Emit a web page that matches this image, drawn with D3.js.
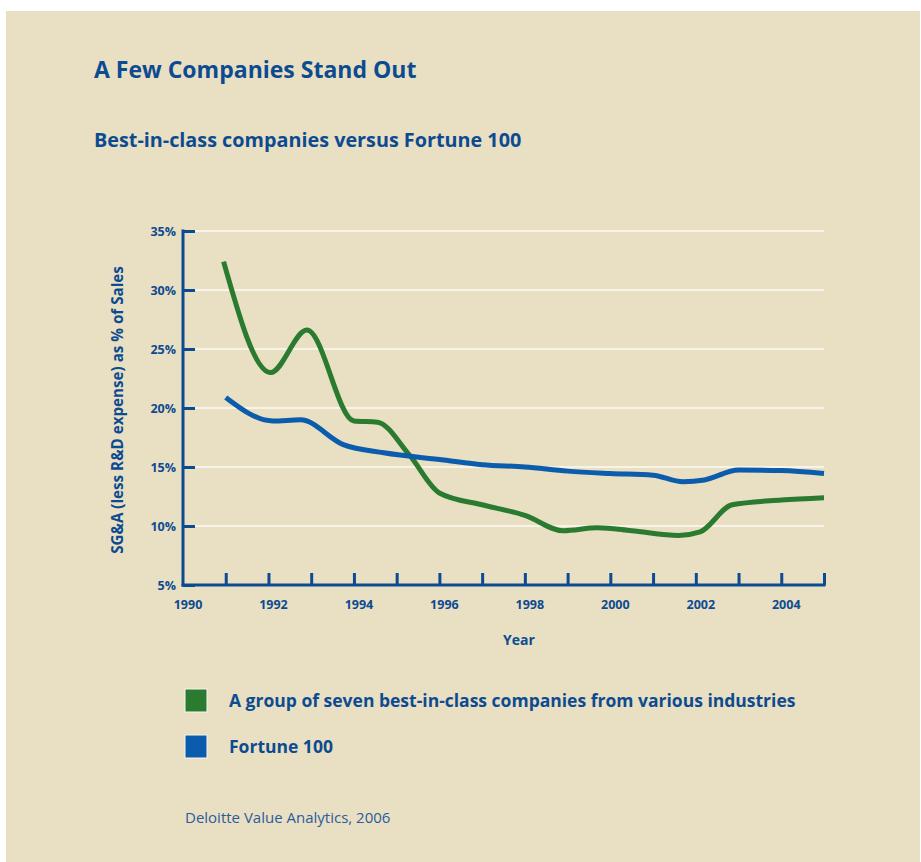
<!DOCTYPE html>
<html>
<head>
<meta charset="utf-8">
<script src="https://cdn.jsdelivr.net/npm/d3@7"></script>
<style>
  body { margin: 0; background: #ffffff; }
  svg text { font-family: 'Open Sans', 'Noto Sans', sans-serif; fill: #0d4b91; }
</style>
</head>
<body>
<div id="chart"></div>
<script>
'use strict';

// values
var greenYears  = [ 1990.95, 1992.05, 1992.9, 1994.0, 1994.55, 1995.3, 1996.0, 1997.0, 1998.0, 1998.9, 1999.7, 2000.5, 2001.6, 2002.1, 2002.85, 2004.0, 2005.0 ];
var greenValues = [ 32.4, 23.0, 26.6, 18.9, 18.8, 16.0, 12.8, 11.8, 10.9, 9.6, 9.85, 9.6, 9.2, 9.5, 11.8, 12.2, 12.4 ];

var blueYears  = [ 1991.0, 1992.1, 1992.75, 1993.75, 1994.7, 1996.1, 1997.0, 1998.0, 1999.0, 2000.0, 2001.0, 2001.7, 2002.2, 2003.0, 2004.0, 2005.0 ];
var blueValues = [ 20.9, 18.9, 19.0, 16.9, 16.2, 15.6, 15.2, 15.0, 14.65, 14.45, 14.3, 13.75, 13.9, 14.75, 14.7, 14.45 ];

var yTicks = [ 5, 10, 15, 20, 25, 30, 35 ];
var xTickYears = d3.range( 1991, 2006 );
var xLabelYears = [ 1990, 1992, 1994, 1996, 1998, 2000, 2002, 2004 ];

var seriesNames = [ 'A group of seven best-in-class companies from various industries', 'Fortune 100' ];
var seriesColors = [ '#2a7a30', '#0b5cad' ];

var width = 921,
    height = 862,
    axisColor = '#0d4b91';

var svg = d3.select( '#chart' )
  .append( 'svg' )
    .attr( 'width', width )
    .attr( 'height', height );

// beige panel
svg.append( 'rect' )
  .attr( 'x', 6 )
  .attr( 'y', 11 )
  .attr( 'width', 914 )
  .attr( 'height', 851 )
  .attr( 'fill', '#e9dfc3' );

svg.append( 'text' )
  .attr( 'x', 94 )
  .attr( 'y', 78 )
  .style( 'font-size', '23px' )
  .style( 'font-weight', 'bold' )
  .text( 'A Few Companies Stand Out' );

svg.append( 'text' )
  .attr( 'x', 94 )
  .attr( 'y', 147 )
  .style( 'font-size', '19.8px' )
  .style( 'font-weight', 'bold' )
  .text( 'Best-in-class companies versus Fortune 100' );

var x = d3.scaleLinear()
    .domain( [ 1990, 2005 ] )
    .range( [ 183, 824 ] );

var y = d3.scaleLinear()
    .domain( [ 5, 35 ] )
    .range( [ 585, 231 ] );

// gridlines
svg.append( 'g' )
  .selectAll( 'line' )
  .data( yTicks.filter( function( d ) { return d > 5; } ) )
  .enter()
  .append( 'line' )
    .attr( 'x1', x( 1990 ) )
    .attr( 'x2', x( 2005 ) )
    .attr( 'y1', function( d ) { return y( d ); } )
    .attr( 'y2', function( d ) { return y( d ); } )
    .attr( 'stroke', '#f8f3e8' )
    .attr( 'stroke-width', 2 );

// y axis
var yAxis = svg.append( 'g' )
  .attr( 'transform', 'translate(' + x( 1990 ) + ',0)' )
  .call( d3.axisRight( y )
    .tickValues( yTicks )
    .tickSize( 12 )
    .tickFormat( function( d ) { return ''; } ) );

yAxis.select( '.domain' ).remove();
yAxis.selectAll( 'line' )
  .attr( 'stroke', axisColor )
  .attr( 'stroke-width', 3 );

yAxis.selectAll( '.tick' )
  .append( 'text' )
    .attr( 'x', -7 )
    .attr( 'dy', '0.35em' )
    .attr( 'text-anchor', 'end' )
    .style( 'font-size', '12.5px' )
    .style( 'font-weight', 'bold' )
    .text( function( d ) { return d + '%'; } );

svg.append( 'line' )
  .attr( 'x1', x( 1990 ) )
  .attr( 'x2', x( 1990 ) )
  .attr( 'y1', y( 35 ) - 1.5 )
  .attr( 'y2', y( 5 ) + 1.5 )
  .attr( 'stroke', axisColor )
  .attr( 'stroke-width', 3 );

// x axis
var xAxis = svg.append( 'g' )
  .attr( 'transform', 'translate(0,' + y( 5 ) + ')' )
  .call( d3.axisTop( x )
    .tickValues( xTickYears )
    .tickSize( 12 )
    .tickFormat( function( d ) { return ''; } ) );

xAxis.select( '.domain' ).remove();
xAxis.selectAll( 'line' )
  .attr( 'stroke', axisColor )
  .attr( 'stroke-width', 3 );

svg.append( 'line' )
  .attr( 'x1', x( 1990 ) - 1.5 )
  .attr( 'x2', x( 2005 ) + 1.5 )
  .attr( 'y1', y( 5 ) )
  .attr( 'y2', y( 5 ) )
  .attr( 'stroke', axisColor )
  .attr( 'stroke-width', 3 );

svg.append( 'g' )
  .selectAll( 'text' )
  .data( xLabelYears )
  .enter()
  .append( 'text' )
    .attr( 'x', function( d ) { return x( d ) + 5; } )
    .attr( 'y', y( 5 ) + 24 )
    .attr( 'text-anchor', 'middle' )
    .style( 'font-size', '12.5px' )
    .style( 'font-weight', 'bold' )
    .text( function( d ) { return d; } );

svg.append( 'text' )
  .attr( 'x', 519 )
  .attr( 'y', 645 )
  .attr( 'text-anchor', 'middle' )
  .style( 'font-size', '14px' )
  .style( 'font-weight', 'bold' )
  .text( 'Year' );

svg.append( 'text' )
  .attr( 'transform', 'translate(123,' + 410 + ') rotate(-90)' )
  .attr( 'text-anchor', 'middle' )
  .style( 'font-size', '15.2px' )
  .style( 'font-weight', 'bold' )
  .text( 'SG&A (less R&D expense) as % of Sales' );

// lines
var line = d3.line()
    .x( function( d ) { return x( d[0] ); } )
    .y( function( d ) { return y( d[1] ); } )
    .curve( d3.curveMonotoneX );

var lineData = [
  d3.zip( greenYears, greenValues ),
  d3.zip( blueYears, blueValues )
];

lineData.forEach( function( data, i ) {
  svg.append( 'path' )
    .attr( 'd', line( data ) )
    .attr( 'fill', 'none' )
    .attr( 'stroke', seriesColors[i] )
    .attr( 'stroke-width', 5 )
    .attr( 'stroke-linejoin', 'round' );
} );

// legend
seriesNames.forEach( function( name, i ) {
  var ly = 689 + i * 46;
  svg.append( 'rect' )
    .attr( 'x', 185 )
    .attr( 'y', ly )
    .attr( 'width', 22 )
    .attr( 'height', 23 )
    .attr( 'fill', seriesColors[i] )
    .attr( 'stroke', '#faf6ec' )
    .attr( 'stroke-width', 1 );

  svg.append( 'text' )
    .attr( 'x', 229 )
    .attr( 'y', ly + 18 )
    .style( 'font-size', '17.5px' )
    .style( 'font-weight', 'bold' )
    .text( name );
} );

svg.append( 'text' )
  .attr( 'x', 185 )
  .attr( 'y', 823 )
  .style( 'font-size', '15px' )
  .style( 'fill', '#2b5c9a' )
  .text( 'Deloitte Value Analytics, 2006' );
</script>
</body>
</html>
